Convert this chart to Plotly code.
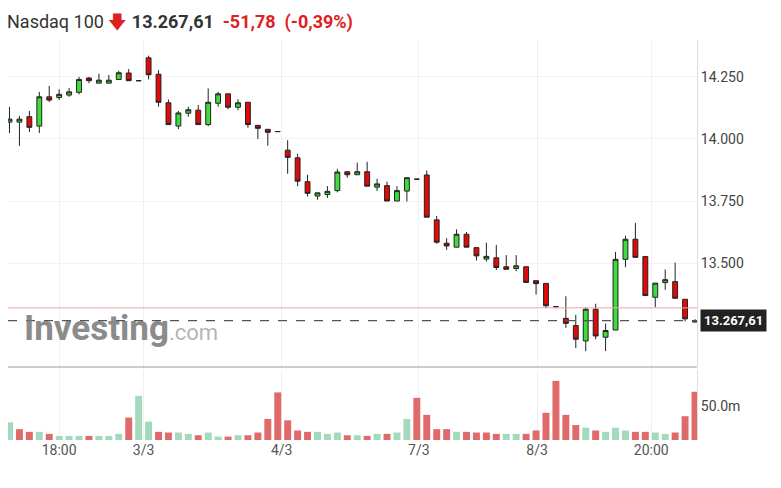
import plotly.graph_objects as go

opens  = [14068,14068,14090,14052,14170,14167,14177,14188,14246,14225,14225,14240,14266,14235,14327,14261,14146,14052,14104,14116,
          14058,14144,14182,14128,14148,14055,14039,14030,13955,13924,13828,13770,13776,13792,13868,13856,13868,13806,13812,13750,
          13790,13838,13855,13674,13580,13564,13616,13562,13516,13521,13485,13478,13485,13429,13418,13324,13277,13248,13186,13314,
          13201,13230,13515,13596,13526,13362,13421,13425,13354,13262]
closes = [14080,14080,14047,14170,14157,14180,14190,14240,14235,14237,14237,14267,14235,14235,14259,14148,14058,14105,14118,14058,
          14148,14182,14128,14146,14058,14043,14027,14030,13926,13830,13781,13783,13789,13867,13856,13868,13810,13819,13750,13792,
          13844,13838,13685,13584,13569,13616,13564,13529,13527,13482,13475,13489,13422,13417,13328,13324,13257,13193,13314,13206,
          13228,13515,13596,13523,13369,13419,13433,13358,13275,13268]
highs  = [14129,14093,14113,14190,14214,14200,14205,14250,14250,14263,14258,14275,14282,14235,14336,14277,14159,14113,14130,14137,
          14204,14190,14182,14160,14148,14055,14039,14030,13995,13940,13856,13783,13810,13880,13868,13905,13908,13840,13828,13810,
          13844,13838,13873,13690,13600,13636,13625,13562,13582,13573,13532,13532,13485,13429,13418,13324,13366,13291,13320,13336,
          13256,13545,13610,13662,13526,13419,13474,13502,13354,13274]
lows   = [14024,13972,14028,14024,14149,14157,14170,14180,14225,14225,14225,14240,14235,14235,14240,14130,14058,14040,14090,14058,
          14052,14130,14120,14116,14045,14000,13973,14030,13860,13810,13768,13755,13762,13785,13844,13856,13810,13790,13750,13750,
          13748,13838,13685,13578,13553,13564,13564,13510,13506,13472,13475,13467,13422,13373,13318,13324,13239,13157,13145,13193,
          13145,13230,13483,13523,13369,13322,13392,13358,13265,13262]
volumes = [26,16,12,12,9,6,6,6,6,6,6,9,33,65,27,12,11,11,9,7,11,5,5,7,7,11,31,70,29,14,12,12,9,11,7,7,
           6,9,9,11,31,62,37,16,16,12,12,11,11,9,9,9,9,14,40,87,37,22,18,14,12,18,14,12,12,11,9,11,35,71]
vol_up = [1,0,0,1,0,1,1,1,0,1,1,1,0,1,1,0,0,1,1,0,1,1,0,1,0,0,0,0,0,0,0,1,1,1,0,1,
          0,1,0,1,1,0,0,0,0,1,0,0,0,0,1,1,0,0,0,0,0,0,1,0,1,1,1,0,0,1,1,0,0,0]
tick_pos = [5, 13.5, 27.4, 41.2, 53.1, 64.6]
tick_lab = ["18:00", "3/3", "4/3", "7/3", "8/3", "20:00"]
price_ticks = [13500, 13750, 14000, 14250]
last_price = 13267.61
prev_close = 13319.39

x = list(range(len(opens)))
fig = go.Figure()
fig.add_trace(go.Candlestick(
    x=x, open=opens, high=highs, low=lows, close=closes, yaxis="y2",
    increasing=dict(line=dict(color="#222", width=1), fillcolor="#3ddc3d"),
    decreasing=dict(line=dict(color="#222", width=1), fillcolor="#e00a0a"),
    whiskerwidth=0, showlegend=False, hoverinfo="skip"))
fig.add_trace(go.Bar(
    x=x, y=volumes, yaxis="y",
    marker=dict(color=["#a3d9bd" if u else "#e06a6a" for u in vol_up], line_width=0),
    width=0.7, showlegend=False))

fig.add_shape(type="line", xref="paper", x0=0, x1=1, yref="y2", y0=prev_close, y1=prev_close,
              line=dict(color="#f0a0a8", width=1))
fig.add_shape(type="line", xref="paper", x0=0, x1=1, yref="y2", y0=last_price, y1=last_price,
              line=dict(color="#555", width=1.2, dash="dash"))
fig.add_shape(type="line", xref="paper", x0=0, x1=1, yref="paper", y0=0.1825, y1=0.1825,
              line=dict(color="#999", width=1))

fig.add_annotation(xref="paper", x=1.005, yref="y2", y=last_price, xanchor="left", showarrow=False,
                   text="<b>13.267,61</b>", font=dict(color="white", size=13, family="Roboto"),
                   bgcolor="#222", borderpad=3)
fig.add_annotation(xref="paper", x=0.02, yref="paper", y=0.222, xanchor="left", showarrow=False,
                   text="<b>Investing</b><span style='font-size:22px;color:#aaa'>.com</span>",
                   font=dict(color="#777", size=35, family="Roboto"), opacity=0.85)
fig.add_annotation(xref="paper", x=-0.005, yref="paper", y=1.078, xanchor="left", yanchor="top",
                   showarrow=False,
                   text="Nasdaq 100 <span style='color:#e02020'>🡇</span> <b>13.267,61</b>  "
                        "<span style='color:#e02020'><b>-51,78  (-0,39%)</b></span>",
                   font=dict(color="#333", size=18, family="Roboto"))

fig.update_layout(
    width=781, height=488, margin=dict(l=0, r=92, t=32, b=56, autoexpand=False),
    paper_bgcolor="white", plot_bgcolor="white", separators=",.",
    bargap=0.3,
    xaxis=dict(range=[-0.15, 69.2], tickvals=tick_pos, ticktext=tick_lab, showgrid=True,
               gridcolor="#f0f0f0", rangeslider=dict(visible=False), ticks="",
               tickfont=dict(size=14, color="#555", family="Roboto"), zeroline=False),
    yaxis=dict(domain=[0, 0.175], range=[0, 103], side="right", tickvals=[50], ticktext=["50.0m"],
               showgrid=False, tickfont=dict(size=14, color="#444", family="Roboto"),
               showline=True, linecolor="#ddd", zeroline=False),
    yaxis2=dict(domain=[0.1825, 1], range=[13081, 14399], side="right", tickvals=price_ticks,
                tickformat=",.0f", showgrid=True, gridcolor="#f2f2f2",
                tickfont=dict(size=14, color="#444", family="Roboto"),
                showline=True, linecolor="#ddd", zeroline=False),
)
fig.write_html("out.html")
